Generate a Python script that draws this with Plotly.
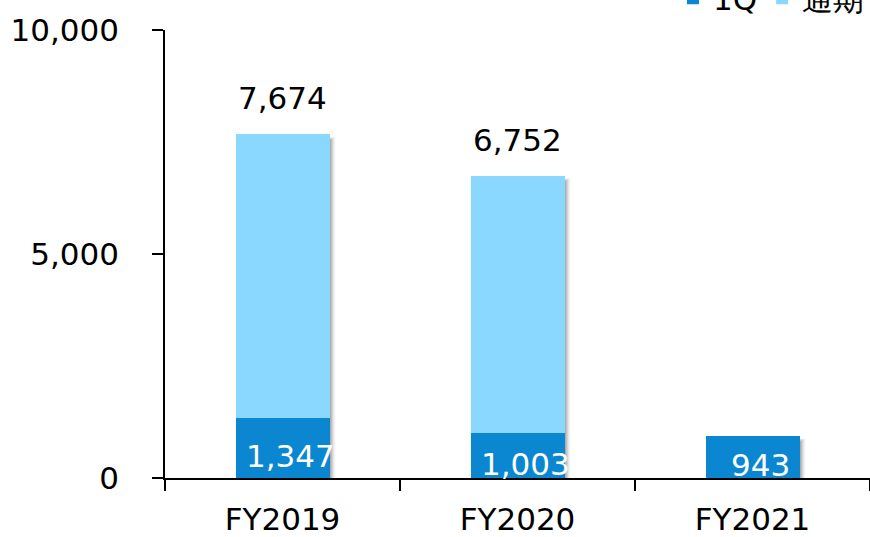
import plotly.graph_objects as go

categories = ["FY2019", "FY2020", "FY2021"]
q1_values = [1347, 1003, 943]
total_values = [7674, 6752, None]
series_names = ["1Q", "通期"]
ytick_vals = [0, 5000, 10000]
ytick_text = ["0", "5,000", "10,000"]

DARK = "#0A87D0"
LIGHT = "#8AD7FF"
FONT = "DejaVu Sans"

rest_values = [(t - q) if t is not None else None for t, q in zip(total_values, q1_values)]

fig = go.Figure()

shapes = []
for i, (q, t) in enumerate(zip(q1_values, total_values)):
    top = t if t is not None else q
    for k, op in enumerate([0.12, 0.10, 0.08, 0.06, 0.04]):
        d = 0.005 * (k + 1)
        shapes.append(dict(type="rect", xref="x", yref="y", layer="below",
                           x0=i - 0.2 + 0.01, x1=i + 0.2 + d,
                           y0=-20 - 8 * k, y1=top - 120 + 15 * k,
                           fillcolor=f"rgba(0,0,0,{op})", line=dict(width=0)))

fig.add_trace(go.Bar(x=categories, y=q1_values, name=series_names[0],
                     marker=dict(color=DARK, line=dict(width=0)), width=0.4))
fig.add_trace(go.Bar(x=categories, y=rest_values, name=series_names[1],
                     marker=dict(color=LIGHT, line=dict(width=0)), width=0.4))

annotations = []
for c, q, t in zip(categories, q1_values, total_values):
    annotations.append(dict(x=c, y=q / 2, xref="x", yref="y", text=f"{q:,}",
                            showarrow=False, xshift=8, yshift=-8,
                            font=dict(family=FONT, size=31, color="white")))
    if t is not None:
        annotations.append(dict(x=c, y=t, xref="x", yref="y", text=f"{t:,}",
                                showarrow=False, yanchor="bottom", yshift=16,
                                font=dict(family=FONT, size=31, color="black")))

fig.update_layout(
    barmode="stack",
    width=870, height=537,
    margin=dict(l=165, r=0, t=30, b=59, autoexpand=False),
    plot_bgcolor="white", paper_bgcolor="white",
    font=dict(family=FONT, size=31, color="black"),
    shapes=shapes,
    annotations=annotations,
    showlegend=True,
    legend=dict(orientation="h", x=1.0, xanchor="right", y=1.010, yanchor="bottom",
                font=dict(family=FONT, size=31), traceorder="normal",
                itemwidth=30, bgcolor="rgba(0,0,0,0)"),
    xaxis=dict(showline=True, linecolor="black", linewidth=1.5,
               ticks="outside", ticklen=11, tickcolor="black", tickwidth=1.5,
               tickson="boundaries", range=[-0.5, 2.5], showgrid=False,
               ticklabelstandoff=13),
    yaxis=dict(range=[0, 10000], tickvals=ytick_vals, ticktext=ytick_text,
               showline=True, linecolor="black", linewidth=1.5,
               ticks="outside", ticklen=11, tickcolor="black", tickwidth=1.5,
               showgrid=False, zeroline=False, ticklabelstandoff=27),
)

fig.write_html("out.html")
